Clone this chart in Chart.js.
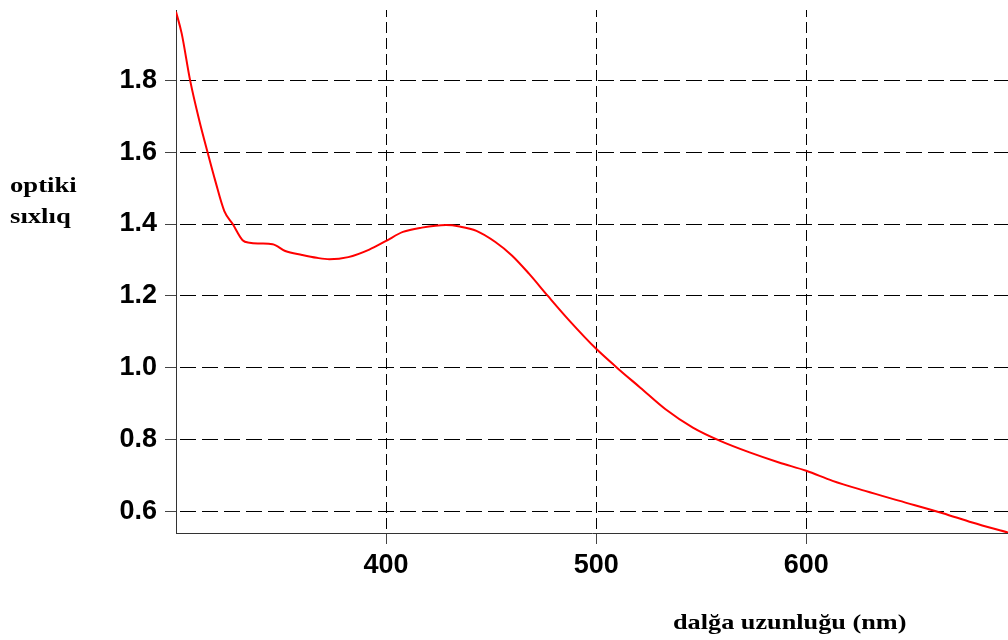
<!DOCTYPE html>
<html>
<head>
<meta charset="utf-8">
<title>optiki sıxlıq</title>
<script src="https://cdn.jsdelivr.net/npm/chart.js@4"></script>
<style>
  body { margin: 0; background: #fff; }
  canvas { display: block; }
</style>
</head>
<body>
<canvas id="spectrum" width="1008" height="640"></canvas>
<script>
'use strict';

// Global variables :
var wavelengths = [300, 302.7, 306.7, 311, 315, 318.7, 323, 327, 331.7, 335, 340, 346, 352, 360, 367, 373, 382, 392, 400, 408, 417, 428.5, 435, 443, 452, 460, 468, 477, 487, 500, 510, 521, 533, 546, 559, 573, 587, 600, 612.5, 628, 644, 665, 679, 696];
var density = [1.99, 1.93, 1.80, 1.69, 1.60, 1.52, 1.436, 1.40, 1.355, 1.348, 1.346, 1.344, 1.325, 1.314, 1.306, 1.302, 1.308, 1.329, 1.353, 1.378, 1.39, 1.397, 1.393, 1.381, 1.35, 1.312, 1.262, 1.2, 1.133, 1.053, 1.0, 0.945, 0.885, 0.834, 0.797, 0.765, 0.737, 0.714, 0.686, 0.658, 0.631, 0.596, 0.570, 0.542];
var xTicks = [400, 500, 600];
var yTicks = [0.6, 0.8, 1.0, 1.2, 1.4, 1.6, 1.8];
var yTitle = ['optiki', 'sıxlıq'];
var xTitle = 'dalğa uzunluğu (nm)';

var points = [];
for (var i = 0; i < wavelengths.length; i++) {
  points.push({x: wavelengths[i], y: density[i]});
}

// axis titles are stretched a bit wider than the serif font normally is
var titlePlugin = {
  id: 'axisTitles',
  afterDraw: function(chart) {
    var ctx = chart.ctx;
    ctx.save();
    ctx.fillStyle = '#000';
    ctx.font = 'bold 21px "Liberation Serif", "Times New Roman", serif';
    ctx.textBaseline = 'alphabetic';
    ctx.textAlign = 'left';

    ctx.save();
    ctx.translate(10, 192);
    ctx.scale(1.27, 1);
    ctx.fillText(yTitle[0], 0, 0);
    ctx.fillText(yTitle[1], 0, 31);
    ctx.restore();

    ctx.save();
    ctx.translate(673, 629);
    ctx.scale(1.25, 1);
    ctx.fillText(xTitle, 0, 0);
    ctx.restore();
    ctx.restore();
  }
};

var tickFont = {family: '"Liberation Sans", Arial, sans-serif', size: 27, weight: 'bold'};

// the chart area has no room reserved for half labels at the ends
function noEdgePadding(axis) {
  axis.paddingTop = 0;
  axis.paddingBottom = 0;
  axis.paddingLeft = 0;
  axis.paddingRight = 0;
}

function drawSpectrum() {
  var ctx = document.getElementById('spectrum').getContext('2d');
  var spectrumChart = new Chart(ctx, { //eslint-disable-line
    type: 'line',
    data: {
      datasets: [{
        data: points,
        borderColor: '#ff0000',
        borderWidth: 2,
        pointRadius: 0,
        fill: false,
        cubicInterpolationMode: 'monotone'
      }]
    },
    options: {
      responsive: false,
      animation: false,
      layout: {padding: {top: 10, right: 0, left: 0, bottom: 0}},
      plugins: {legend: {display: false}, tooltip: {enabled: false}},
      scales: {
        x: {
          type: 'linear',
          min: 300,
          max: 696,
          afterBuildTicks: function(axis) {
            axis.ticks = xTicks.map(function(v) { return {value: v}; });
          },
          afterFit: function(axis) {
            axis.height = 107;
            noEdgePadding(axis);
          },
          grid: {color: '#000', lineWidth: 1, tickLength: 11, tickColor: '#444', tickBorderDash: []},
          border: {display: true, color: '#333', width: 1, dash: [11, 5], dashOffset: 4},
          ticks: {color: '#000', font: tickFont, padding: 5, maxRotation: 0}
        },
        y: {
          min: 0.541,
          max: 1.995,
          afterBuildTicks: function(axis) {
            axis.ticks = yTicks.map(function(v) { return {value: v}; });
          },
          afterFit: function(axis) {
            axis.width = 176;
            noEdgePadding(axis);
          },
          grid: {color: '#000', lineWidth: 1, tickLength: 11, tickColor: '#444', tickBorderDash: []},
          border: {display: true, color: '#333', width: 1, dash: [16, 6], dashOffset: -3},
          ticks: {
            color: '#000',
            font: tickFont,
            padding: 8,
            callback: function(v) { return v.toFixed(1); }
          }
        }
      }
    },
    plugins: [titlePlugin]
  });
}

drawSpectrum();
</script>
</body>
</html>
